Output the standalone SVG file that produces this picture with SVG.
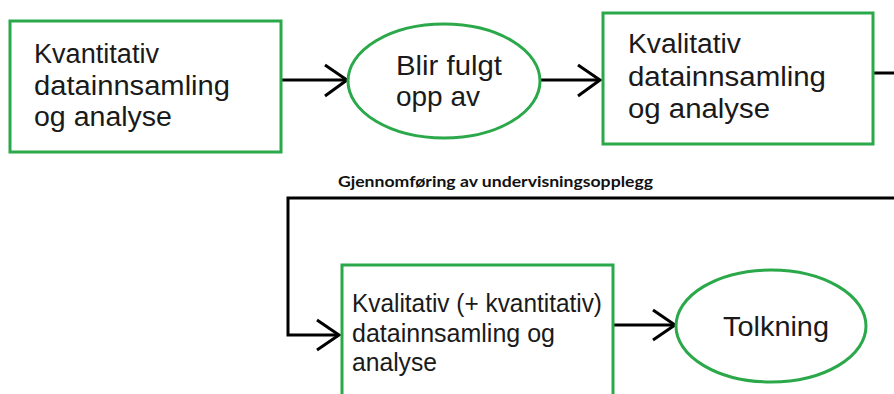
<svg xmlns="http://www.w3.org/2000/svg" width="894" height="394" viewBox="0 0 894 394">
  <style>
    .box { fill: #ffffff; stroke: #2aa84a; stroke-width: 3; }
    .t { font-family: "Liberation Sans", Arial, sans-serif; fill: #1a1a1a; }
    .conn { fill: none; stroke: #000000; stroke-width: 3; }
    .head { fill: none; stroke: #000000; stroke-width: 3; stroke-linejoin: miter; }
    .lbl { font-family: Lato, "Liberation Sans", sans-serif; font-weight: 700; font-size: 16px; fill: #111111; }
  </style>
  <rect x="0" y="0" width="894" height="394" fill="#ffffff"/>

  <g id="connectors">
    <line class="conn" x1="281" y1="80" x2="347" y2="80"/>
    <polyline class="head" points="325,65 347,80 325,96"/>
    <line class="conn" x1="540" y1="80" x2="600" y2="80"/>
    <polyline class="head" points="578,65 600,80 578,96"/>
    <polyline class="conn" points="873,73 894,73"/>
    <polyline class="conn" points="894,198 288,198 288,335 339,335"/>
    <polyline class="head" points="317,320 339,335 317,350"/>
    <line class="conn" x1="613" y1="325" x2="675" y2="325"/>
    <polyline class="head" points="653,310 675,325 653,340"/>
    <text class="lbl" x="338" y="187" textLength="315" lengthAdjust="spacingAndGlyphs">Gjennomføring av undervisningsopplegg</text>
  </g>

  <g id="node-kvantitativ">
    <rect class="box" x="10" y="21" width="271" height="131"/>
    <text class="t" font-size="27">
      <tspan x="34" y="63" textLength="125" lengthAdjust="spacingAndGlyphs">Kvantitativ</tspan>
      <tspan x="34" y="95" textLength="196" lengthAdjust="spacingAndGlyphs">datainnsamling</tspan>
      <tspan x="34" y="126" textLength="138" lengthAdjust="spacingAndGlyphs">og analyse</tspan>
    </text>
  </g>

  <g id="node-blir-fulgt">
    <ellipse class="box" cx="444" cy="81" rx="96" ry="57"/>
    <text class="t" font-size="28">
      <tspan x="396" y="75" textLength="106" lengthAdjust="spacingAndGlyphs">Blir fulgt</tspan>
      <tspan x="396" y="106" textLength="84" lengthAdjust="spacingAndGlyphs">opp av</tspan>
    </text>
  </g>

  <g id="node-kvalitativ">
    <rect class="box" x="603" y="13" width="270" height="131"/>
    <text class="t" font-size="27">
      <tspan x="628" y="53" textLength="113" lengthAdjust="spacingAndGlyphs">Kvalitativ</tspan>
      <tspan x="628" y="86" textLength="198" lengthAdjust="spacingAndGlyphs">datainnsamling</tspan>
      <tspan x="628" y="118" textLength="142" lengthAdjust="spacingAndGlyphs">og analyse</tspan>
    </text>
  </g>

  <g id="node-kvalitativ-kvantitativ">
    <rect class="box" x="342" y="265" width="271" height="145"/>
    <text class="t" font-size="25">
      <tspan x="352" y="312" textLength="250" lengthAdjust="spacingAndGlyphs">Kvalitativ (+ kvantitativ)</tspan>
      <tspan x="352" y="342" textLength="203" lengthAdjust="spacingAndGlyphs">datainnsamling og</tspan>
      <tspan x="352" y="371" textLength="85" lengthAdjust="spacingAndGlyphs">analyse</tspan>
    </text>
  </g>

  <g id="node-tolkning">
    <ellipse class="box" cx="771" cy="326" rx="95" ry="56"/>
    <text class="t" font-size="28" x="723" y="336" textLength="106" lengthAdjust="spacingAndGlyphs">Tolkning</text>
  </g>
</svg>
